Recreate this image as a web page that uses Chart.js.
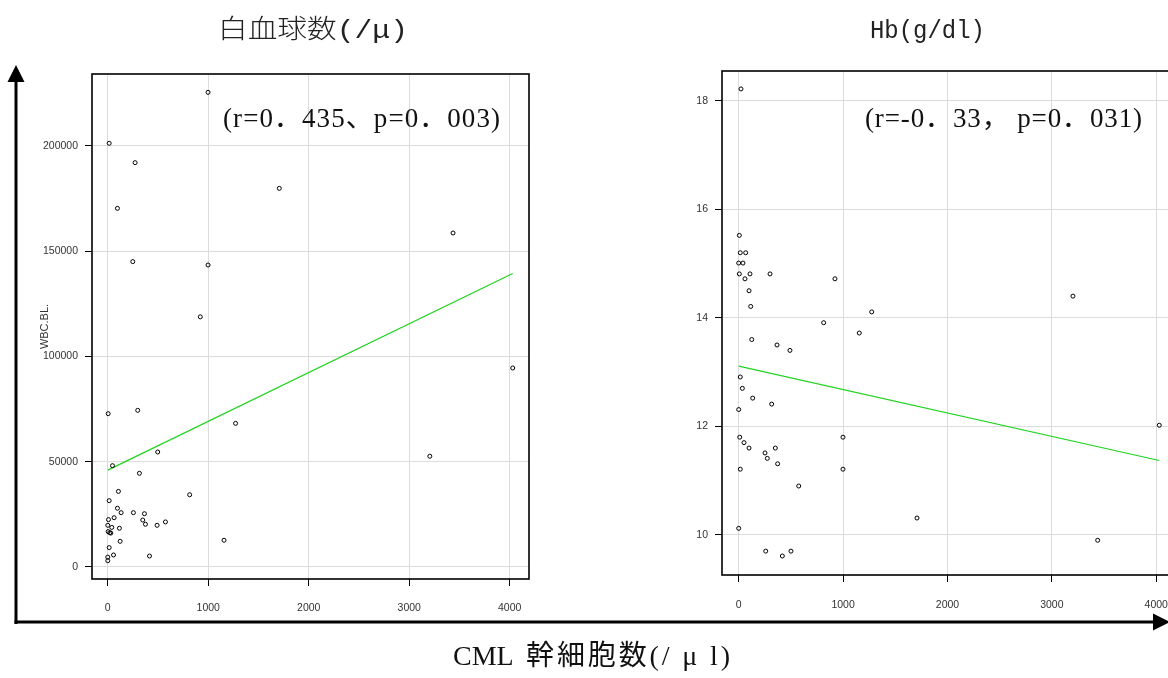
<!DOCTYPE html>
<html><head><meta charset="utf-8">
<script src="https://cdn.jsdelivr.net/npm/chart.js@4.4.0/dist/chart.umd.min.js"></script>
<style>
html,body{margin:0;padding:0;background:#fff;overflow:hidden;width:1168px;height:678px;position:relative;}
#c1{position:absolute;left:0;top:0;width:560px;height:625px;}
#c2{position:absolute;left:630px;top:0;width:620px;height:625px;}
#ov{position:absolute;left:0;top:0;pointer-events:none;}
</style></head><body>
<canvas id="c1" width="560" height="625"></canvas>
<canvas id="c2" width="620" height="625"></canvas>
<svg id="ov" width="1168" height="678" xmlns="http://www.w3.org/2000/svg">
  <line x1="16" y1="78" x2="16" y2="624" stroke="#000" stroke-width="3"/>
  <polygon points="16,65 7.5,82 24.5,82" fill="#000"/>
  <line x1="14.5" y1="622" x2="1158" y2="622" stroke="#000" stroke-width="3"/>
  <polygon points="1170,622 1153,613.5 1153,630.5" fill="#000"/>
  <text id="t1" x="218" y="38" font-family="'Liberation Mono','Noto Sans CJK JP'" font-size="26" font-weight="300" textLength="190" lengthAdjust="spacingAndGlyphs" fill="#222">白血球数(/μ)</text>
  <text id="t2" x="870" y="38" font-family="'Liberation Mono','Noto Sans CJK JP'" font-size="26" textLength="115" lengthAdjust="spacingAndGlyphs" fill="#222">Hb(g/dl)</text>
  <text id="a1" x="223" y="127" font-family="'Liberation Serif','Noto Sans CJK JP'" font-size="27" textLength="277" lengthAdjust="spacing" fill="#111">(r=0．435、p=0．003)</text>
  <text id="a2" x="865" y="127" font-family="'Liberation Serif','Noto Sans CJK JP'" font-size="27" textLength="277" lengthAdjust="spacing" fill="#111">(r=-0．33， p=0．031)</text>
  <text id="xl" x="453" y="665" font-family="'Liberation Serif','Noto Sans CJK JP'" font-size="28" fill="#111"><tspan x="453">CML</tspan><tspan x="526" textLength="204" lengthAdjust="spacing">幹細胞数(/ μ l)</tspan></text>
</svg>
<script>
// ---- Data ----
const wbcX = [4, 298, 1272, 497, 47, 315, 106, 815, 14, 96, 133, 255, 365, 63, 7, 348, 375, 574, 491, 0, 40, 116, 4, 20, 30, 123, 1157, 14, 57, 415, 0, 0, 998, 14, 272, 1707, 96, 249, 998, 921, 3436, 4030, 3205];
const wbcY = [72800, 74400, 68200, 54600, 48100, 44500, 35900, 34300, 31500, 27900, 25800, 25800, 25300, 23400, 22500, 22300, 20300, 21400, 19800, 19800, 18800, 18400, 16800, 16300, 16100, 12200, 12700, 9200, 5700, 5200, 4700, 3000, 225400, 201200, 192000, 179800, 170300, 145000, 143400, 118800, 158600, 94500, 52600];
const wbcFitX = [0, 4030];
const wbcFitY = [46000, 139400];

const hbX = [22, 6, 15, 67, 0, 41, 6, 108, 300, 60, 922, 99, 115, 814, 1274, 1155, 125, 3202, 367, 491, 15, 35, 134, 0, 316, 10, 51, 99, 351, 252, 274, 373, 15, 999, 999, 575, 1708, 0, 259, 418, 501, 4029, 3439];
const hbY = [18.22, 15.52, 15.20, 15.20, 15.01, 15.01, 14.81, 14.81, 14.81, 14.72, 14.72, 14.50, 14.21, 13.91, 14.11, 13.72, 13.60, 14.40, 13.50, 13.40, 12.91, 12.70, 12.52, 12.31, 12.41, 11.80, 11.70, 11.60, 11.60, 11.51, 11.41, 11.31, 11.21, 11.80, 11.21, 10.90, 10.31, 10.12, 9.70, 9.61, 9.70, 12.02, 9.90];
const hbFitX = [0, 4029];
const hbFitY = [13.11, 11.37];

// tick labels
const xTicks = [0, 1000, 2000, 3000, 4000];
const wbcTicks = [0, 50000, 100000, 150000, 200000];
const hbTicks = [10, 12, 14, 16, 18];
const wbcAxisTitle = 'WBC.BL.';

// ---- helpers ----
const pts = (xs, ys) => xs.map((x, i) => ({x: x, y: ys[i]}));
const tickFont = {family: "'Liberation Sans', Arial, sans-serif", size: 10.5};
const framePlugin = {
  id: 'frame',
  afterDatasetsDraw(chart) {
    const {ctx, chartArea: a} = chart;
    ctx.save();
    ctx.strokeStyle = '#000';
    ctx.lineWidth = 1.6;
    ctx.strokeRect(a.left, a.top, a.right - a.left, a.bottom - a.top);
    ctx.restore();
  }
};

function makeChart(id, cfg) {
  return new Chart(document.getElementById(id), {
    type: 'scatter',
    data: {
      datasets: [
        {data: pts(cfg.x, cfg.y), pointRadius: 2, pointHoverRadius: 2, pointBorderWidth: 1,
         pointBorderColor: '#000', pointBackgroundColor: 'rgba(0,0,0,0)', showLine: false},
        {data: pts(cfg.fx, cfg.fy), showLine: true, pointRadius: 0, borderColor: '#1fd41f',
         borderWidth: 1.2, fill: false}
      ]
    },
    options: {
      responsive: false, animation: false, events: [],
      layout: {padding: cfg.pad},
      plugins: {legend: {display: false}, tooltip: {enabled: false}},
      scales: {
        x: {
          type: 'linear', min: cfg.xmin, max: cfg.xmax,
          afterFit(s) { s.height = cfg.xh; },
          afterBuildTicks(s) { s.ticks = cfg.xt.map(v => ({value: v})); },
          border: {display: false},
          grid: {color: '#dcdcdc', lineWidth: 1, tickLength: 7, tickColor: '#000', drawTicks: true},
          ticks: {font: tickFont, color: '#333', padding: cfg.xpad,
                  maxRotation: 0, autoSkip: false, callback: v => String(v)}
        },
        y: {
          type: 'linear', min: cfg.ymin, max: cfg.ymax,
          afterFit(s) { s.width = cfg.yw; },
          afterBuildTicks(s) { s.ticks = cfg.yt.map(v => ({value: v})); },
          border: {display: false},
          grid: {color: '#dcdcdc', lineWidth: 1, tickLength: 7, tickColor: '#000', drawTicks: true},
          ticks: {font: tickFont, color: '#333', padding: 7,
                  autoSkip: false, callback: v => String(v)},
          title: cfg.ytitle ? {display: true, text: cfg.ytitle, color: '#333',
                  font: {family: "'Liberation Sans', Arial, sans-serif", size: 11},
                  padding: {top: 38.4, bottom: 0}} : {display: false}
        }
      }
    },
    plugins: [framePlugin]
  });
}

makeChart('c1', {x: wbcX, y: wbcY, fx: wbcFitX, fy: wbcFitY, xt: xTicks, yt: wbcTicks,
  xmin: -157, xmax: 4192, ymin: -5700, ymax: 234100, xpad: 16,
  xh: 46, yw: 92, pad: {top: 74, right: 31, left: 0, bottom: 0}, ytitle: wbcAxisTitle});

makeChart('c2', {x: hbX, y: hbY, fx: hbFitX, fy: hbFitY, xt: xTicks, yt: hbTicks,
  xmin: -160, xmax: 4400, ymin: 9.26, ymax: 18.55, xpad: 17,
  xh: 50, yw: 92, pad: {top: 71, right: 52, left: 0, bottom: 0}, ytitle: null});
</script>
</body></html>
